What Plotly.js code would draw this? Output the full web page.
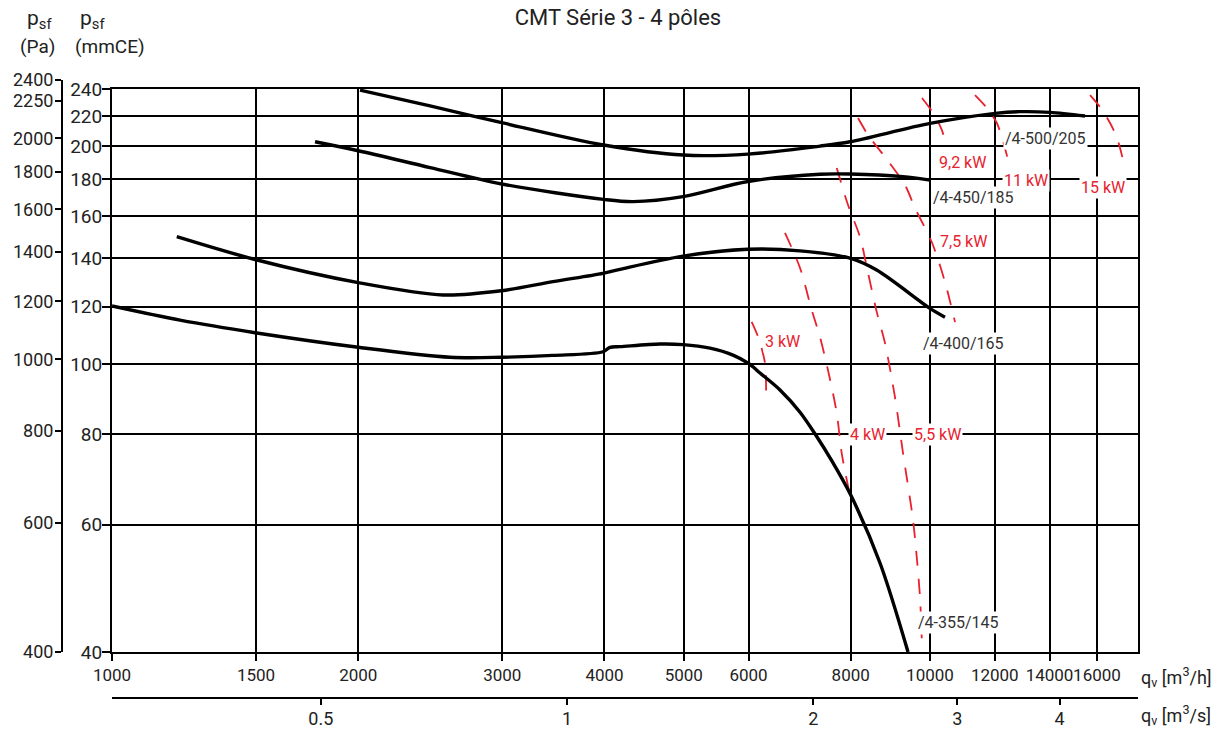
<!DOCTYPE html>
<html><head><meta charset="utf-8">
<script src="https://cdn.plot.ly/plotly-3.0.1.min.js"></script>
<style>html,body{margin:0;padding:0;background:#fff}#chart{width:1223px;height:731px}</style>
</head><body><div id="chart"></div>
<script>
// ---------- data (q in m3/h, pressure in mmCE) ----------
const fan355_q = [1000,1211,1496,2000,2590,2995,3460,3983,4062,4178,4677,4990,5383,5743,6000,6197,6556,6936,7276,7547,8000,8687,9400];
const fan355_p = [120.3,115.0,110.5,105.5,102.2,102.2,102.8,104.0,105.5,105.7,106.6,106.4,105.2,102.9,100.2,97.2,92.1,85.8,79.3,74.2,65.9,53.1,40];
const fan400_q = [1200,1496,2000,2540,2995,3460,3983,4178,4990,5990,6936,8000,8606,10000,10430];
const fan400_p = [150.0,139.5,129.6,124.6,126.3,130.0,133.5,135.2,141.0,144.1,143.4,140.0,134.9,119.4,116.1];
const fan450_q = [1771,2000,2448,2995,3990,4335,4989,5990,7337,7984,9268,10000];
const fan450_p = [202.9,197.2,186.9,177.4,168.9,167.7,170.4,178.8,183.0,183.1,181.6,179.6];
const fan500_q = [2010,2448,2995,3990,4989,5990,7337,7984,10000,12010,12880,14020,15470];
const fan500_p = [239.1,227.4,215.6,200.8,194.5,195.1,200.1,202.9,215.1,222.1,223.3,222.8,220.2];
const fanNames = ['/4-355/145','/4-400/165','/4-450/185','/4-500/205'];

const kw3_q  = [6053,6163,6285,6303];
const kw3_p  = [114.4,109.1,100.3,88.4];
const kw4_q  = [6648,6936,7168,7337,7504,7691,7798,7990];
const kw4_p  = [151.8,135.8,118.8,109.0,98.1,85.6,75.4,65.5];
const kw55_q = [7691,7940,8212,8400,8615,8810,9061,9268,9533,9641,9723,9770];
const kw55_p = [186.6,165.9,149.8,133.6,117.6,106.9,90.0,75.4,60.9,53.6,47.6,41.8];
const kw75_q = [8166,8400,8810,9320,9587,10060,10430,10730];
const kw75_p = [218.8,207.3,193.3,176.8,164.3,147.0,129.9,114.3];
const kw92_q = [9777,10090,10340,10460];
const kw92_p = [233.2,222.3,210.6,200.8];
const kw11_q = [11350,11710,12070,12250,12460];
const kw11_p = [235.4,226.6,215.4,205.3,191.4];
const kw15_q = [15690,16140,16600,16930,17220];
const kw15_p = [235.4,226.6,215.4,205.3,191.4];
const kwNames = ['3 kW','4 kW','5,5 kW','7,5 kW','9,2 kW','11 kW','15 kW'];

const qhTicks = [1000,1500,2000,3000,4000,5000,6000,8000,10000,12000,14000,16000];
const qsTicks = [0.5,1,2,3,4];
const mmTicks = [40,60,80,100,120,140,160,180,200,220,240];
const paTicks = [400,600,800,1000,1200,1400,1600,1800,2000,2250,2400];

// ---------- figure ----------
const W = 1223, H = 731;
const L = Math.log10;
const XMIN = 1000, XMAX = 1000*Math.pow(10,1026/818);
const black = '#000', red = '#e8212e', txt = '#222';
const FONT = 'Roboto, "DejaVu Sans", sans-serif';

const fanSeries = [[fan355_q,fan355_p],[fan400_q,fan400_p],[fan450_q,fan450_p],[fan500_q,fan500_p]];
const kwSeries = [[kw3_q,kw3_p],[kw4_q,kw4_p],[kw55_q,kw55_p],[kw75_q,kw75_p],[kw92_q,kw92_p],[kw11_q,kw11_p],[kw15_q,kw15_p]];

const traces = [];
kwSeries.forEach(([q,p],i)=>traces.push({x:q,y:p,type:'scatter',mode:'lines',name:kwNames[i],
  line:{color:red,width:1.8,dash:'15px,13px',shape:'spline',smoothing:0.8},hoverinfo:'skip'}));
fanSeries.forEach(([q,p],i)=>traces.push({x:q,y:p,type:'scatter',mode:'lines',name:fanNames[i],
  line:{color:black,width:3.4,shape:'spline',smoothing:0.9},hoverinfo:'skip'}));
// carriers for the secondary axes
traces.push({x:[1],y:[100],xaxis:'x2',yaxis:'y',mode:'markers',marker:{opacity:0},hoverinfo:'skip'});
traces.push({x:[2000],y:[1000],xaxis:'x3',yaxis:'y2',mode:'markers',marker:{opacity:0},hoverinfo:'skip'});

// label anchor positions (m3/h, mmCE)
const fanLabelPos = [[10820,44.0],[11000,106.9],[11290,169.7],[13860,205.3]];
const kwLabelPos = [[6610,107.3],[8375,79.8],[10200,79.8],[11000,147.9],[10970,190.2],[13100,179.6],[16280,175.6]];

const annotations = [];
fanLabelPos.forEach(([q,p],i)=>annotations.push({x:L(q),y:L(p),xref:'x',yref:'y',text:fanNames[i],showarrow:false,
  font:{family:FONT,size:16,color:'#333'},bgcolor:'#fff',borderpad:1}));
kwLabelPos.forEach(([q,p],i)=>annotations.push({x:L(q),y:L(p),xref:'x',yref:'y',text:kwNames[i],showarrow:false,
  font:{family:FONT,size:16,color:red},bgcolor:'#fff',borderpad:1}));
// axis headers
annotations.push({xref:'paper',yref:'paper',x:25/W,y:1-19/H,xanchor:'left',yanchor:'middle',showarrow:false,
  text:'p<sub>sf</sub>',font:{family:FONT,size:21,color:txt}});
annotations.push({xref:'paper',yref:'paper',x:18/W,y:1-46/H,xanchor:'left',yanchor:'middle',showarrow:false,
  text:'(Pa)',font:{family:FONT,size:19,color:txt}});
annotations.push({xref:'paper',yref:'paper',x:78/W,y:1-19/H,xanchor:'left',yanchor:'middle',showarrow:false,
  text:'p<sub>sf</sub>',font:{family:FONT,size:21,color:txt}});
annotations.push({xref:'paper',yref:'paper',x:73/W,y:1-46/H,xanchor:'left',yanchor:'middle',showarrow:false,
  text:'(mmCE)',font:{family:FONT,size:19,color:txt}});
annotations.push({xref:'paper',yref:'paper',x:1139/W,y:1-677/H,xanchor:'left',yanchor:'middle',showarrow:false,
  text:'q<sub>v</sub> [m<sup>3</sup>/h]',font:{family:FONT,size:18,color:txt}});
annotations.push({xref:'paper',yref:'paper',x:1139/W,y:1-715/H,xanchor:'left',yanchor:'middle',showarrow:false,
  text:'q<sub>v</sub> [m<sup>3</sup>/s]',font:{family:FONT,size:18,color:txt}});

const axBase = {showline:true,linecolor:black,linewidth:2,ticks:'outside',tickcolor:black,tickwidth:2,
  zeroline:false,tickfont:{family:FONT,size:19,color:txt},tickmode:'array',fixedrange:true,tickangle:0};
const xDom = [112/W,1138/W];

const layout = {
  width:W,height:H,margin:{l:0,r:0,t:0,b:0},
  paper_bgcolor:'#fff',plot_bgcolor:'rgba(0,0,0,0)',showlegend:false,
  font:{family:FONT,size:17,color:txt},
  title:{text:'CMT Série 3 - 4 pôles',x:618/W,xanchor:'center',y:1-17/H,yanchor:'middle',font:{family:FONT,size:22,color:txt}},
  xaxis:Object.assign({},axBase,{type:'log',domain:xDom,range:[L(XMIN),L(XMAX)],anchor:'y',
    tickfont:{family:FONT,size:17,color:txt},
    tickvals:qhTicks,ticktext:qhTicks.map(String),showgrid:true,gridcolor:black,gridwidth:2,mirror:true,ticklen:7}),
  yaxis:Object.assign({},axBase,{type:'log',domain:[79/H,642/H],range:[L(40),L(240)],anchor:'x',ticklabelstandoff:-4,
    tickvals:mmTicks,ticktext:mmTicks.map(String),showgrid:true,gridcolor:black,gridwidth:2,mirror:true,ticklen:8}),
  xaxis2:Object.assign({},axBase,{type:'log',overlaying:'x',anchor:'free',position:(H-698)/H,side:'bottom',
    tickfont:{family:FONT,size:18,color:txt},ticklabelstandoff:-2,
    range:[L(XMIN/3600),L(XMAX/3600)],tickvals:qsTicks,ticktext:['0.5','1','2','3','4'],showgrid:false,ticklen:6}),
  xaxis3:{type:'log',domain:xDom,range:[L(XMIN),L(XMAX)],anchor:'y2',visible:false,showgrid:false,fixedrange:true},
  yaxis2:Object.assign({},axBase,{type:'log',domain:[79/H,651/H],range:[L(400),L(2400)],anchor:'free',position:62/W,
    tickfont:{family:FONT,size:18,color:txt},ticklabelstandoff:-2,
    tickvals:paTicks,ticktext:paTicks.map(String),showgrid:false,ticklen:6}),
  annotations:annotations
};

Plotly.newPlot('chart',traces,layout,{staticPlot:true,displayModeBar:false});
</script>
</body></html>
